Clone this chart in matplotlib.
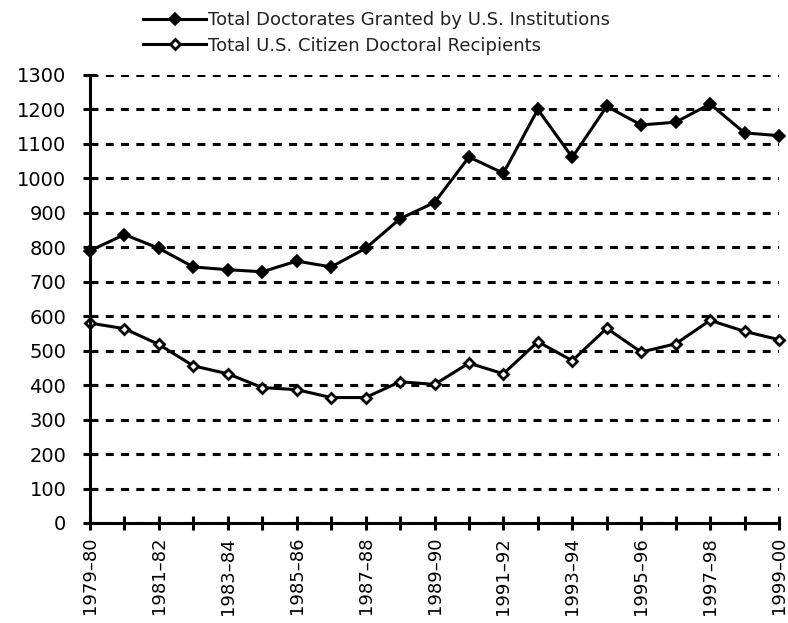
import matplotlib
matplotlib.use('agg')
import matplotlib.pyplot as plt

# academic years on the x axis
years = ['1979–80', '1980–81', '1981–82', '1982–83', '1983–84', '1984–85',
         '1985–86', '1986–87', '1987–88', '1988–89', '1989–90', '1990–91',
         '1991–92', '1992–93', '1993–94', '1994–95', '1995–96', '1996–97',
         '1997–98', '1998–99', '1999–00']

# series values
total_doctorates = [790, 837, 797, 743, 735, 729, 760, 743, 797, 883, 930,
                    1062, 1015, 1200, 1061, 1209, 1155, 1163, 1216, 1132, 1124]
citizen_doctorates = [580, 564, 518, 456, 433, 393, 387, 364, 364, 410, 402,
                      464, 433, 526, 471, 565, 496, 520, 588, 556, 532]

label_total = 'Total Doctorates Granted by U.S. Institutions'
label_citizen = 'Total U.S. Citizen Doctoral Recipients'

y_ticks = list(range(0, 1301, 100))

plt.rcParams['font.family'] = 'DejaVu Sans'

fig = plt.figure(figsize=(7.88, 6.23), dpi=100)
ax = fig.add_axes([90 / 788, 1 - 523 / 623, 689 / 788, 448 / 623])

x = list(range(len(years)))

ax.plot(x, total_doctorates, color='black', linewidth=2.2, marker='D',
        markersize=6, markerfacecolor='black', markeredgecolor='black',
        markeredgewidth=1.2, label=label_total, zorder=3, clip_on=False)
ax.plot(x, citizen_doctorates, color='black', linewidth=2.2, marker='D',
        markersize=5.5, markerfacecolor='white', markeredgecolor='black',
        markeredgewidth=2.0, label=label_citizen, zorder=3, clip_on=False)

# axes ranges and ticks
ax.set_xlim(0, len(years) - 1)
ax.set_ylim(0, 1300)
ax.set_yticks(y_ticks)
ax.set_yticklabels([str(v) for v in y_ticks], fontsize=14)
ax.set_xticks(x)
ax.set_xticklabels([y if i % 2 == 0 else '' for i, y in enumerate(years)],
                   rotation=90, fontsize=13)

ax.tick_params(axis='both', direction='inout', length=10, width=2.2,
               color='black')
ax.tick_params(axis='y', pad=12)
ax.tick_params(axis='x', pad=5)

# spines
for side in ['top', 'right']:
    ax.spines[side].set_visible(False)
for side in ['left', 'bottom']:
    ax.spines[side].set_linewidth(2.2)
    ax.spines[side].set_zorder(4)

# dashed gridlines
ax.yaxis.grid(True, color='black', linewidth=2.2, linestyle=(0, (2.6, 2.4)))
ax.set_axisbelow(True)

# legend above the plot
leg = fig.legend(loc='upper left', bbox_to_anchor=(143 / 788, 1 - 11 / 623),
                 bbox_transform=fig.transFigure, frameon=False, fontsize=13,
                 handlelength=3.5, handletextpad=0.1, labelspacing=0.42,
                 borderpad=0, borderaxespad=0)
for t in leg.get_texts():
    t.set_color('#222222')

fig.savefig('out.png', dpi=100)
plt.close()
